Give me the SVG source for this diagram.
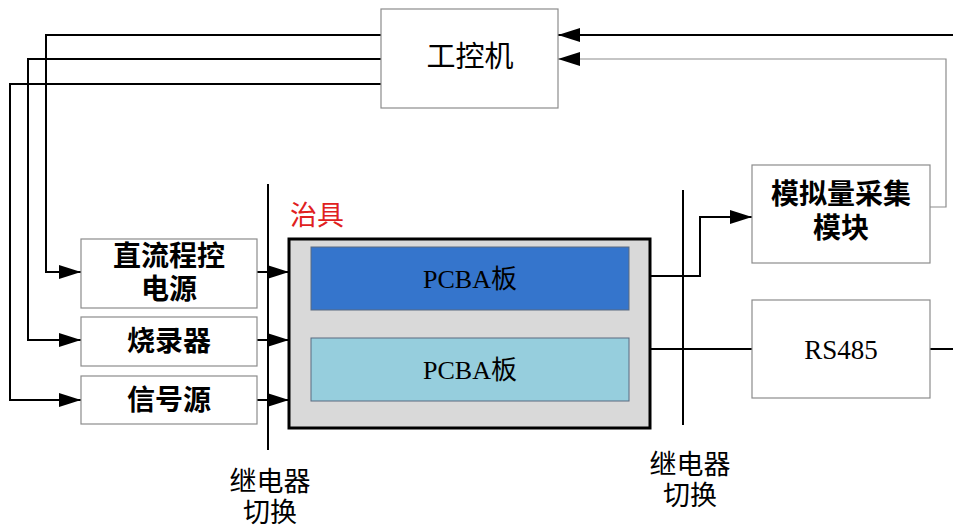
<svg xmlns="http://www.w3.org/2000/svg" width="953" height="531" viewBox="0 0 953 531">
<style>
.box{fill:#fff;stroke:#8c8c8c;stroke-width:1.2}
.t{font-family:"Liberation Serif","Noto Sans CJK SC",serif;fill:#000;text-anchor:middle}
.b{font-weight:bold}
.ln{fill:none;stroke:#000;stroke-width:2}
.lg{fill:none;stroke:#8c8c8c;stroke-width:1.2}
</style>
<defs>
<marker id="ah" viewBox="0 0 22 14" refX="22" refY="7" markerWidth="22" markerHeight="14" markerUnits="userSpaceOnUse" orient="auto"><path d="M0,0 L22,7 L0,14 z" fill="#000"/></marker>
</defs>
<rect width="953" height="531" fill="#fff"/>
<g id="connectors">
<path class="ln" d="M381,35 H46 V272 H81" marker-end="url(#ah)"/>
<path class="ln" d="M381,59 H28 V340 H81" marker-end="url(#ah)"/>
<path class="ln" d="M381,84 H10 V400 H81" marker-end="url(#ah)"/>
<path class="ln" d="M953,35 H558" marker-end="url(#ah)"/>
<path class="lg" d="M930,207 H946 V59 H558" marker-end="url(#ah)"/>
<path class="ln" d="M257,272 H289" marker-end="url(#ah)"/>
<path class="ln" d="M257,340 H289" marker-end="url(#ah)"/>
<path class="ln" d="M257,400 H289" marker-end="url(#ah)"/>
<path class="ln" d="M650,276 H700 V217 H752" marker-end="url(#ah)"/>
<path class="ln" d="M650,349 H752"/>
<path class="ln" d="M930,349 H953"/>
<path class="ln" d="M268,184 V450"/>
<path class="ln" d="M683,190 V425"/>
</g>
<g id="ipc"><rect class="box" x="381" y="9" width="177" height="99"/><text class="t" x="470" y="67" font-size="29">工控机</text></g>
<g id="dcpower"><rect class="box" x="81" y="239" width="176" height="69"/><text class="t b" x="169" y="266" font-size="28">直流程控</text><text class="t b" x="169" y="299" font-size="28">电源</text></g>
<g id="burner"><rect class="box" x="81" y="317" width="176" height="49"/><text class="t b" x="169" y="351" font-size="28">烧录器</text></g>
<g id="signal"><rect class="box" x="81" y="376" width="176" height="48"/><text class="t b" x="169" y="410" font-size="28">信号源</text></g>
<g id="jig">
<text x="290" y="225" font-family="Liberation Serif,'Noto Sans CJK SC',serif" font-size="27" fill="#e02020">治具</text>
<rect x="289" y="239" width="361" height="189" fill="#d9d9d9" stroke="#000" stroke-width="3"/>
</g>
<g id="pcba1"><rect x="311" y="247" width="318" height="63" fill="#3575cc" stroke="#5a6a80" stroke-width="1"/><text class="t" x="470" y="288" font-size="26">PCBA板</text></g>
<g id="pcba2"><rect x="311" y="338" width="318" height="63" fill="#96cedd" stroke="#5a6a80" stroke-width="1"/><text class="t" x="470" y="379" font-size="26">PCBA板</text></g>
<g id="adc"><rect class="box" x="752" y="165" width="178" height="98"/><text class="t b" x="841" y="204" font-size="28">模拟量采集</text><text class="t b" x="841" y="238" font-size="28">模块</text></g>
<g id="rs485"><rect class="box" x="752" y="300" width="178" height="98"/><text class="t" x="841" y="359" font-size="27">RS485</text></g>
<g id="relay1"><text class="t" x="270" y="491" font-size="27">继电器</text><text class="t" x="270" y="522" font-size="27">切换</text></g>
<g id="relay2"><text class="t" x="690" y="474" font-size="27">继电器</text><text class="t" x="690" y="505" font-size="27">切换</text></g>
</svg>
